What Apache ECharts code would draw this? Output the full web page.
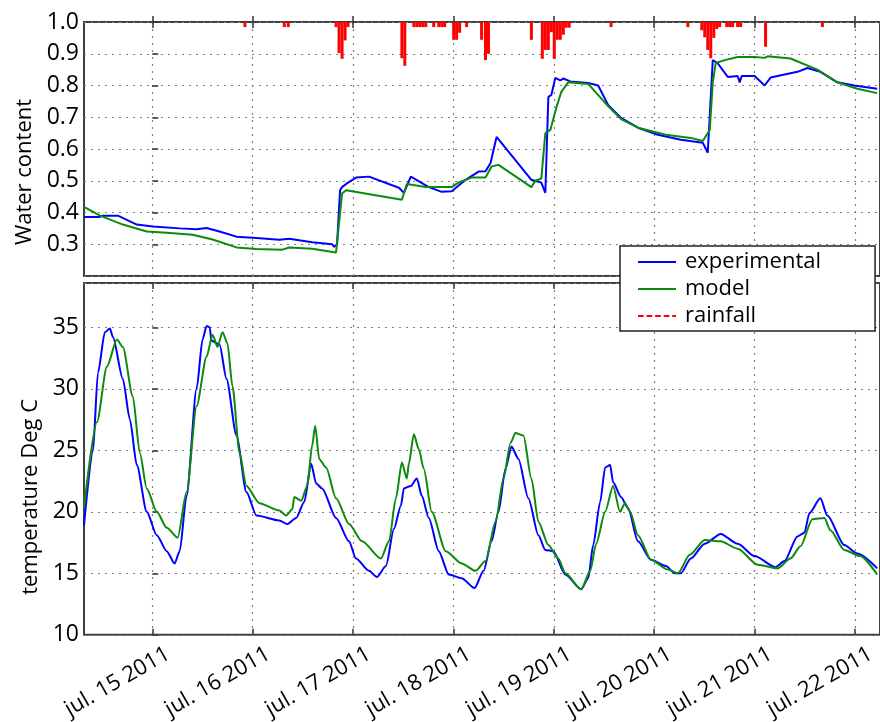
<!DOCTYPE html>
<html><head><meta charset="utf-8">
<script src="https://cdn.jsdelivr.net/npm/echarts@6/dist/echarts.min.js"></script>
<style>html,body{margin:0;padding:0;background:#fff}#c{width:880px;height:722px}</style>
</head><body><div id="c"></div><script>
// x values are days since jul. 15 2011 00:00
const dayTicks = [0, 1, 2, 3, 4, 5, 6, 7];
const dayLabels = ['jul. 15 2011','jul. 16 2011','jul. 17 2011','jul. 18 2011','jul. 19 2011','jul. 20 2011','jul. 21 2011','jul. 22 2011'];
const waterTicks = [0.3, 0.4, 0.5, 0.6, 0.7, 0.8, 0.9, 1.0];
const tempTicks = [10, 15, 20, 25, 30, 35];

const waterExp = [[-0.680,0.386],[-0.521,0.386],[-0.491,0.39],[-0.342,0.39],[-0.154,0.362],[0.005,0.356],[0.273,0.35],[0.442,0.347],[0.541,0.351],[0.670,0.34],[0.839,0.324],[1.038,0.32],[1.266,0.314],[1.365,0.317],[1.593,0.306],[1.792,0.30],[1.812,0.292],[1.841,0.30],[1.871,0.47],[1.891,0.48],[1.931,0.49],[2.030,0.51],[2.159,0.513],[2.457,0.478],[2.507,0.462],[2.576,0.513],[2.755,0.48],[2.884,0.465],[2.983,0.467],[3.122,0.503],[3.251,0.529],[3.320,0.53],[3.370,0.556],[3.430,0.638],[3.777,0.503],[3.876,0.494],[3.916,0.462],[3.946,0.764],[3.976,0.77],[4.015,0.824],[4.065,0.816],[4.095,0.822],[4.164,0.813],[4.343,0.808],[4.442,0.80],[4.541,0.739],[4.670,0.698],[4.839,0.667],[5.038,0.645],[5.266,0.629],[5.484,0.62],[5.534,0.588],[5.584,0.88],[5.633,0.87],[5.733,0.827],[5.832,0.83],[5.852,0.81],[5.872,0.83],[6.001,0.83],[6.100,0.80],[6.160,0.825],[6.428,0.843],[6.527,0.855],[6.656,0.843],[6.825,0.81],[6.994,0.80],[7.222,0.79]];
const waterMod = [[-0.680,0.418],[-0.521,0.39],[-0.293,0.362],[-0.055,0.34],[0.144,0.336],[0.402,0.33],[0.601,0.315],[0.839,0.29],[1.038,0.285],[1.295,0.283],[1.365,0.29],[1.593,0.286],[1.831,0.274],[1.841,0.277],[1.891,0.46],[1.931,0.47],[2.487,0.44],[2.536,0.49],[2.725,0.48],[2.983,0.48],[3.053,0.495],[3.181,0.51],[3.320,0.51],[3.380,0.545],[3.449,0.55],[3.777,0.48],[3.817,0.50],[3.876,0.507],[3.916,0.65],[3.966,0.66],[4.025,0.73],[4.075,0.78],[4.144,0.81],[4.343,0.805],[4.541,0.735],[4.670,0.694],[4.839,0.667],[5.117,0.645],[5.365,0.635],[5.484,0.625],[5.554,0.66],[5.584,0.81],[5.614,0.871],[5.703,0.88],[5.832,0.89],[6.001,0.89],[6.100,0.887],[6.130,0.892],[6.358,0.885],[6.626,0.85],[6.825,0.81],[7.024,0.79],[7.222,0.776]];
const rainfall = [[0.923,0.8],[1.315,0.8],[1.355,0.8],[1.831,0.8],[1.861,4.9],[1.891,5.8],[1.921,2.9],[1.950,0.8],[2.487,5.7],[2.516,6.9],[2.606,0.8],[2.636,0.8],[2.665,0.8],[2.695,0.8],[2.725,0.8],[2.804,0.8],[2.854,0.8],[2.884,0.8],[2.913,0.8],[3.003,2.8],[3.032,2.8],[3.062,1.7],[3.132,0.8],[3.281,2.8],[3.320,6.0],[3.350,5.0],[3.777,2.8],[3.886,5.8],[3.916,4.4],[3.946,4.4],[3.976,1.6],[4.005,5.8],[4.035,2.8],[4.065,2.8],[4.095,2.0],[4.124,0.9],[4.154,0.9],[4.571,0.8],[5.336,0.8],[5.475,1.3],[5.504,2.4],[5.534,4.4],[5.564,5.7],[5.594,2.5],[5.624,1.1],[5.653,0.8],[5.723,0.8],[5.752,0.8],[5.782,0.8],[5.832,0.8],[5.862,0.8],[6.110,3.9],[6.676,0.8]];
const tempExp = [[-0.680,18.9],[-0.591,24.9],[-0.541,31.3],[-0.472,34.6],[-0.422,34.9],[-0.392,34.2],[-0.293,30.8],[-0.223,27.5],[-0.154,23.8],[-0.055,20.0],[0.045,18.1],[0.144,16.8],[0.223,15.8],[0.273,16.8],[0.342,21.3],[0.442,30.0],[0.501,34.0],[0.541,35.1],[0.571,35.0],[0.591,33.9],[0.670,33.6],[0.740,30.8],[0.839,26.2],[0.938,21.6],[1.038,19.7],[1.266,19.3],[1.345,19.0],[1.434,19.5],[1.514,20.8],[1.583,23.9],[1.633,22.3],[1.692,21.9],[1.831,19.5],[1.960,17.6],[2.030,16.2],[2.159,15.2],[2.238,14.7],[2.328,15.6],[2.407,18.6],[2.477,20.5],[2.507,21.9],[2.576,22.1],[2.636,22.7],[2.685,21.3],[2.755,19.5],[2.854,16.8],[2.954,14.9],[3.082,14.6],[3.211,13.8],[3.301,15.2],[3.380,17.6],[3.449,20.0],[3.519,23.5],[3.579,25.3],[3.648,24.3],[3.747,21.1],[3.847,18.1],[3.916,16.9],[3.996,16.8],[4.115,14.9],[4.273,13.7],[4.343,14.6],[4.393,17.3],[4.462,20.8],[4.512,23.6],[4.561,23.8],[4.591,22.4],[4.670,21.2],[4.740,20.3],[4.839,17.6],[4.968,16.1],[5.117,15.6],[5.207,15.0],[5.266,15.0],[5.365,16.2],[5.504,17.4],[5.663,18.2],[5.832,17.4],[6.001,16.4],[6.209,15.5],[6.299,16.0],[6.428,18.0],[6.497,18.3],[6.547,19.9],[6.656,21.1],[6.725,19.7],[6.894,17.3],[7.024,16.6],[7.222,15.4]];
const tempMod = [[-0.680,20.3],[-0.551,27.3],[-0.452,31.8],[-0.352,34.0],[-0.293,33.4],[-0.194,29.4],[-0.124,24.8],[-0.055,21.9],[0.045,20.0],[0.144,18.7],[0.253,17.9],[0.342,21.6],[0.442,28.6],[0.541,32.6],[0.601,34.4],[0.650,33.4],[0.700,34.6],[0.749,33.7],[0.799,30.2],[0.869,24.8],[0.938,22.1],[1.067,20.7],[1.266,20.1],[1.335,19.7],[1.395,20.2],[1.415,21.2],[1.484,20.9],[1.544,22.1],[1.593,25.4],[1.623,27.0],[1.663,24.3],[1.732,23.6],[1.831,21.1],[1.960,19.0],[2.090,17.6],[2.278,16.2],[2.358,17.6],[2.427,21.1],[2.487,24.0],[2.536,22.7],[2.556,23.9],[2.606,26.3],[2.655,25.1],[2.705,23.5],[2.784,20.0],[2.924,16.8],[3.082,15.8],[3.221,15.2],[3.320,16.0],[3.420,19.2],[3.499,22.7],[3.569,25.6],[3.618,26.4],[3.698,26.2],[3.777,22.7],[3.847,19.2],[3.946,17.3],[4.045,16.2],[4.115,15.0],[4.273,13.7],[4.363,15.2],[4.422,17.4],[4.512,20.0],[4.591,22.1],[4.660,20.0],[4.710,20.7],[4.760,20.0],[4.839,18.1],[4.968,16.1],[5.137,15.3],[5.236,15.0],[5.355,16.5],[5.504,17.7],[5.663,17.6],[5.832,17.0],[6.031,15.7],[6.229,15.4],[6.358,16.2],[6.458,17.2],[6.576,19.4],[6.696,19.5],[6.755,18.5],[6.894,16.9],[7.053,16.4],[7.222,14.9]];

const FONT = 'Open Sans';
const X_MIN = -0.68, X_MAX = 7.25;
const gridLine = { type: [2, 5], color: '#808080', width: 1.2 };
const tickStyle = { color: '#333', width: 1.5 };

function xAxis(gridIndex, position, labels) {
  return {
    type: 'value', gridIndex, position, min: X_MIN, max: X_MAX,
    axisLine: { show: false },
    axisTick: { show: true, inside: true, length: 6, customValues: dayTicks, lineStyle: tickStyle },
    axisLabel: labels ? {
      show: true, customValues: dayTicks, rotate: 30, margin: 14, verticalAlign: 'top',
      padding: [0, -12, 0, 0],
      fontFamily: FONT, fontSize: 22, color: '#000',
      formatter: v => dayLabels[Math.round(v)]
    } : { show: false },
    splitLine: { show: position === 'bottom', lineStyle: gridLine }
  };
}

const lineOf = (name, x, y, data, color, z, smooth) => ({
  name, type: 'line', xAxisIndex: x, yAxisIndex: y, data, showSymbol: false,
  smooth: smooth ? 0.25 : false, smoothMonotone: 'x',
  color, lineStyle: { width: 2, color }, z
});

const option = {
  animation: false,
  backgroundColor: '#fff',
  grid: [
    { left: 84, right: -3, top: 22, height: 254, show: true, borderColor: '#404040', borderWidth: 2, backgroundColor: 'transparent' },
    { left: 84, right: -3, top: 283, height: 353, show: true, borderColor: '#404040', borderWidth: 2, backgroundColor: 'transparent' }
  ],
  xAxis: [xAxis(0, 'bottom', false), xAxis(0, 'top', false), xAxis(1, 'bottom', true), xAxis(1, 'top', false)],
  yAxis: [
    { type: 'value', gridIndex: 0, min: 0.2, max: 1.0, interval: 0.1,
      name: 'Water content', nameLocation: 'middle', nameGap: 45,
      nameTextStyle: { fontFamily: FONT, fontSize: 22, color: '#000', padding: [0, 46, 0, 0] },
      axisLine: { show: false },
      axisTick: { show: true, inside: true, length: 6, lineStyle: tickStyle },
      axisLabel: { fontFamily: FONT, fontSize: 23, color: '#000', margin: 5,
        formatter: v => (waterTicks.some(t => Math.abs(t - v) < 1e-6) ? v.toFixed(1) : '') },
      splitLine: { show: true, lineStyle: gridLine } },
    { type: 'value', gridIndex: 0, min: 0, max: 40, inverse: true, show: false, splitLine: { show: false } },
    { type: 'value', gridIndex: 1, min: 10, max: 38.6, interval: 5,
      name: 'temperature Deg C', nameLocation: 'middle', nameGap: 41,
      nameTextStyle: { fontFamily: FONT, fontSize: 22, color: '#000', padding: [0, 76, 0, 0] },
      axisLine: { show: false },
      axisTick: { show: true, inside: true, length: 6, lineStyle: tickStyle },
      axisLabel: { fontFamily: FONT, fontSize: 23, color: '#000', margin: 5, showMaxLabel: false,
        formatter: v => (tempTicks.indexOf(v) >= 0 ? String(v) : '') },
      splitLine: { show: true, lineStyle: gridLine } }
  ],
  legend: {
    orient: 'vertical', left: 620, top: 246, z: 50,
    backgroundColor: '#fff', borderColor: '#222', borderWidth: 1.5, borderRadius: 0,
    padding: [5, 54, 4, 18], itemGap: 5, itemWidth: 38, itemHeight: 2,
    textStyle: { fontFamily: FONT, fontSize: 22, color: '#000', padding: [0, 0, 0, 4] },
    data: [
      { name: 'experimental', icon: 'path://M0,0H40V2H0Z' },
      { name: 'model', icon: 'path://M0,0H40V2H0Z' },
      { name: 'rainfall', icon: 'path://M0,0H6V2H0Z M9,0H15V2H9Z M18,0H24V2H18Z M27,0H33V2H27Z M36,0H40V2H36Z' }
    ]
  },
  series: [
    lineOf('experimental', 0, 0, waterExp, '#0000ff', 3, false),
    lineOf('model', 0, 0, waterMod, '#0c8a0c', 4, false),
    { name: 'rainfall', type: 'bar', xAxisIndex: 0, yAxisIndex: 1, data: rainfall, barWidth: 3, color: '#ff0000', itemStyle: { color: '#ff0000' }, z: 2 },
    lineOf('experimental', 2, 2, tempExp, '#0000ff', 3, true),
    lineOf('model', 2, 2, tempMod, '#0c8a0c', 4, true)
  ]
};
const chart = echarts.init(document.getElementById('c'), null, { renderer: 'canvas' });
chart.setOption(option);
</script></body></html>
